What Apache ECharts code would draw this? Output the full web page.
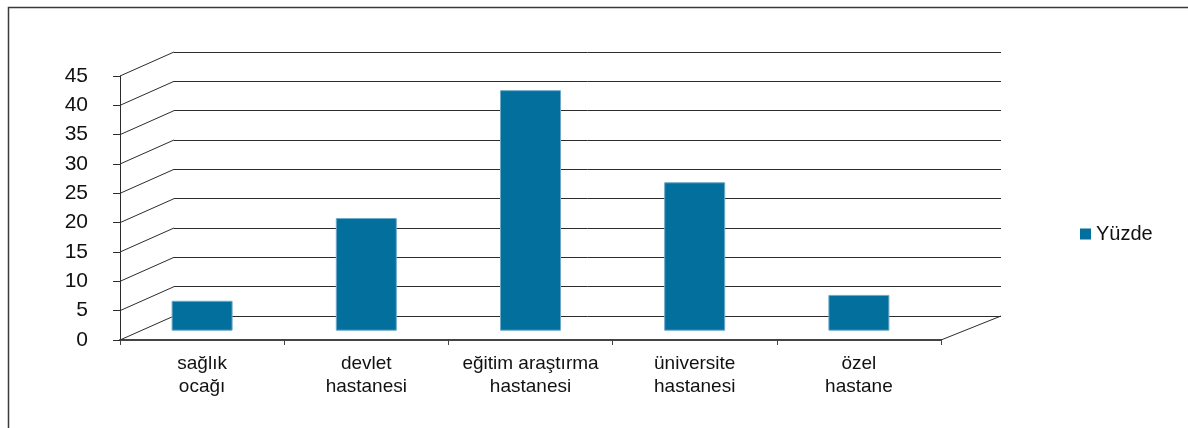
<!DOCTYPE html>
<html>
<head>
<meta charset="utf-8">
<script src="https://cdn.jsdelivr.net/npm/echarts@6/dist/echarts.min.js"></script>
<style>
  html, body { margin: 0; padding: 0; background: #fff; }
  #chart { width: 1188px; height: 428px; }
</style>
</head>
<body>
<div id="chart"></div>
<script>
// Categories (two-line labels) and the share of each facility type
const categories = [
  'sağlık\nocağı',
  'devlet\nhastanesi',
  'eğitim araştırma\nhastanesi',
  'üniversite\nhastanesi',
  'özel\nhastane'
];
const seriesName = 'Yüzde';
const percentValues = [5.1, 19.2, 41.0, 25.3, 6.1];
const yTickValues = [0, 5, 10, 15, 20, 25, 30, 35, 40, 45];

// Pseudo-3D depth of the floor / side wall
const DEPTH_LEFT_X = 54;
const DEPTH_RIGHT_X = 60;
const DEPTH_Y = 24;

const FONT = "'Liberation Sans', Arial, Helvetica, sans-serif";
const LINE = '#2b2b2b';
const BAR = '#036F9C';

const chart = echarts.init(document.getElementById('chart'), null, { renderer: 'canvas' });

chart.setOption({
  animation: false,
  backgroundColor: '#ffffff',
  textStyle: { fontFamily: FONT },
  graphic: [{
    // outer chart frame (only top and left edges fall inside the page)
    type: 'rect',
    shape: { x: 8.5, y: 7.5, width: 1400, height: 600 },
    style: { fill: 'none', stroke: '#3a3a3a', lineWidth: 1.5 },
    silent: true, z: 0
  }],
  legend: {
    data: [seriesName],
    orient: 'vertical',
    left: 1080,
    top: 222,
    padding: 0,
    icon: 'rect',
    itemWidth: 11,
    itemHeight: 11,
    itemGap: 5,
    itemStyle: { borderWidth: 0 },
    textStyle: { fontSize: 20, color: '#111', fontFamily: FONT, lineHeight: 24 }
  },
  grid: [
    // front plane: value labels and category axis
    { left: 120, top: 76, width: 821, height: 264, outerBoundsMode: 'none', containLabel: false },
    // back wall: gridlines
    { left: 174, top: 52, width: 827, height: 264, outerBoundsMode: 'none', containLabel: false },
    // bar plane (between back wall and front edge)
    { left: 120, top: 66.7, width: 821, height: 264, outerBoundsMode: 'none', containLabel: false }
  ],
  xAxis: [
    {
      gridIndex: 0,
      type: 'category',
      data: categories,
      boundaryGap: true,
      axisLine: { show: true, lineStyle: { color: '#444', width: 2 } },
      axisTick: { show: true, interval: 0, length: 5, lineStyle: { color: '#444' } },
      axisLabel: {
        interval: 0, margin: 12, fontSize: 19, lineHeight: 23.5,
        color: '#111', fontFamily: FONT, align: 'center'
      },
      splitLine: { show: false }
    },
    { gridIndex: 1, type: 'value', min: 0, max: 1, show: false },
    { gridIndex: 2, type: 'category', data: categories, show: false }
  ],
  yAxis: [
    {
      gridIndex: 0,
      type: 'value', min: 0, max: 45, interval: 5,
      axisLine: { show: true, lineStyle: { color: LINE, width: 1 } },
      axisTick: { show: true, inside: false, length: 7, lineStyle: { color: LINE } },
      axisLabel: { margin: 32, fontSize: 21, color: '#111', fontFamily: FONT },
      splitLine: { show: false }
    },
    {
      gridIndex: 1,
      type: 'value', min: 0, max: 45, interval: 5,
      axisLine: { show: false },
      axisTick: { show: false },
      axisLabel: { show: false },
      splitLine: { show: true, lineStyle: { color: LINE, width: 1 } }
    },
    { gridIndex: 2, type: 'value', min: 0, max: 45, show: false }
  ],
  series: [
    {
      // side-wall diagonals joining each front tick to its back gridline
      type: 'custom',
      name: 'wall',
      xAxisIndex: 1, yAxisIndex: 1,
      silent: true,
      data: yTickValues.map(v => [0, v]),
      renderItem: function (params, api) {
        const p = api.coord([api.value(0), api.value(1)]);
        return {
          type: 'line',
          shape: { x1: p[0], y1: p[1], x2: p[0] - DEPTH_LEFT_X, y2: p[1] + DEPTH_Y },
          style: { stroke: LINE, lineWidth: 1 }
        };
      },
      z: 1
    },
    {
      // right edge of the floor
      type: 'custom',
      name: 'floor',
      xAxisIndex: 1, yAxisIndex: 1,
      silent: true,
      data: [[1, 0]],
      renderItem: function (params, api) {
        const p = api.coord([api.value(0), api.value(1)]);
        return {
          type: 'line',
          shape: { x1: p[0], y1: p[1], x2: p[0] - DEPTH_RIGHT_X, y2: p[1] + DEPTH_Y },
          style: { stroke: LINE, lineWidth: 1 }
        };
      },
      z: 1
    },
    {
      type: 'bar',
      name: seriesName,
      xAxisIndex: 2, yAxisIndex: 2,
      data: percentValues,
      barWidth: 61,
      itemStyle: { color: BAR, borderColor: '#6FA9C8', borderWidth: 1 },
      z: 3
    }
  ]
});
</script>
</body>
</html>
